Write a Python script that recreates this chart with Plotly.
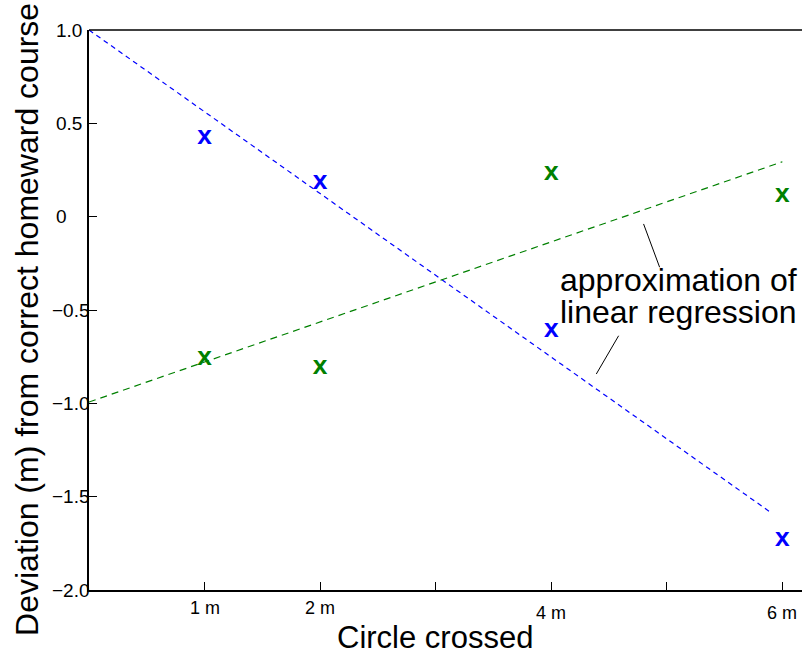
import plotly.graph_objects as go

# ---------------- data ----------------
circles = [1, 2, 4, 6]
blue_dev = [0.423, 0.182, -0.612, -1.732]
green_dev = [-0.759, -0.809, 0.232, 0.112]

blue_fit_x = [0.0, 5.91]
blue_fit_y = [1.0, -1.589]
green_fit_x = [0.0, 6.0]
green_fit_y = [-0.993, 0.294]

x_tick_vals = [1, 2, 3, 4, 5, 6]
x_tick_text = ["1 m", "2 m", "", "4 m", "", "6 m"]
y_tick_vals = [1.0, 0.5, 0.0, -0.5, -1.0, -1.5, -2.0]
y_tick_text = ["1.0", "0.5", "0", "\u22120.5", "\u22121.0", "\u22121.5", "\u22122.0"]

note_lines = ["approximation of", "linear regression"]
leader_x = [[4.799, 4.938], [4.583, 4.390]]
leader_y = [[-0.039, -0.271], [-0.638, -0.843]]

x_title = "Circle crossed"
y_title = "Deviation (m) from correct homeward course"

# ---------------- style ----------------
BLUE = "#0000FF"
GREEN = "#008000"
FONT = "Liberation Sans, Arial, sans-serif"
XTICK_DROP = {"1 m": 0, "2 m": 0, "4 m": -5, "6 m": -5}

fig = go.Figure()

fig.add_trace(go.Scatter(x=blue_fit_x, y=blue_fit_y, mode="lines",
                         line=dict(color=BLUE, width=1.2, dash="5px,4px"),
                         hoverinfo="skip", showlegend=False))
fig.add_trace(go.Scatter(x=green_fit_x, y=green_fit_y, mode="lines",
                         line=dict(color=GREEN, width=1.2, dash="7px,5px"),
                         hoverinfo="skip", showlegend=False))

for ys, col in [(blue_dev, BLUE), (green_dev, GREEN)]:
    fig.add_trace(go.Scatter(x=circles, y=ys, mode="text", text=["x"] * len(circles),
                             textposition="middle center",
                             textfont=dict(family="Courier New, Liberation Mono, monospace",
                                           size=26, color=col, weight="bold"),
                             showlegend=False))

annotations = []
# x tick labels
for v, t in zip(x_tick_vals, x_tick_text):
    if not t:
        continue
    annotations.append(dict(x=v, y=-2.0, xref="x", yref="y", text=t, showarrow=False,
                            xanchor="center", yanchor="middle", yshift=-18 + XTICK_DROP[t],
                            font=dict(family=FONT, size=18, color="black"),
                            borderpad=0, borderwidth=0))
# y tick labels
for v, t in zip(y_tick_vals, y_tick_text):
    neg = t.startswith("\u2212")
    annotations.append(dict(x=0, y=v, xref="x", yref="y", text=t, showarrow=False,
                            xanchor="right" if neg else "left",
                            xshift=1 if neg else -33, yanchor="middle",
                            font=dict(family=FONT, size=19, color="black"),
                            borderpad=0, borderwidth=0))
# axis titles
annotations.append(dict(x=-0.087, y=0.484, xref="paper", yref="paper", text=y_title,
                        textangle=-90, showarrow=False, xanchor="center", yanchor="middle",
                        font=dict(family=FONT, size=32, color="black"),
                        borderpad=0, borderwidth=0))
annotations.append(dict(x=0.4853, y=-0.084, xref="paper", yref="paper", text=x_title,
                        showarrow=False, xanchor="center", yanchor="middle",
                        font=dict(family=FONT, size=31, color="black"),
                        borderpad=0, borderwidth=0))
# regression note
for i, line in enumerate(note_lines):
    annotations.append(dict(x=0.6606, y=0.5527 - 0.0555 * i, xref="paper", yref="paper",
                            text=line, showarrow=False, xanchor="left", yanchor="middle",
                            font=dict(family=FONT, size=32, color="black"),
                            borderpad=0, borderwidth=0))

shapes = [dict(type="line", xref="paper", yref="paper", x0=0, x1=1, y0=1, y1=1,
               line=dict(color="black", width=1.5))]
for lx, ly in zip(leader_x, leader_y):
    shapes.append(dict(type="line", xref="x", yref="y", x0=lx[0], x1=lx[1],
                       y0=ly[0], y1=ly[1], line=dict(color="black", width=1)))

fig.update_layout(
    width=802, height=655,
    margin=dict(l=89, r=0, t=30, b=65),
    paper_bgcolor="white", plot_bgcolor="white",
    showlegend=False,
    annotations=annotations,
    shapes=shapes,
    xaxis=dict(range=[0, 6.17], showline=True, linecolor="black", linewidth=1.5,
               ticks="inside", ticklen=8, tickcolor="black", tickwidth=1,
               tickvals=x_tick_vals, showticklabels=False,
               showgrid=False, zeroline=False),
    yaxis=dict(range=[-2, 1], showline=True, linecolor="black", linewidth=1.5,
               ticks="inside", ticklen=8, tickcolor="black", tickwidth=1,
               tickvals=y_tick_vals, showticklabels=False,
               showgrid=False, zeroline=False),
)

fig.write_html("out.html")
